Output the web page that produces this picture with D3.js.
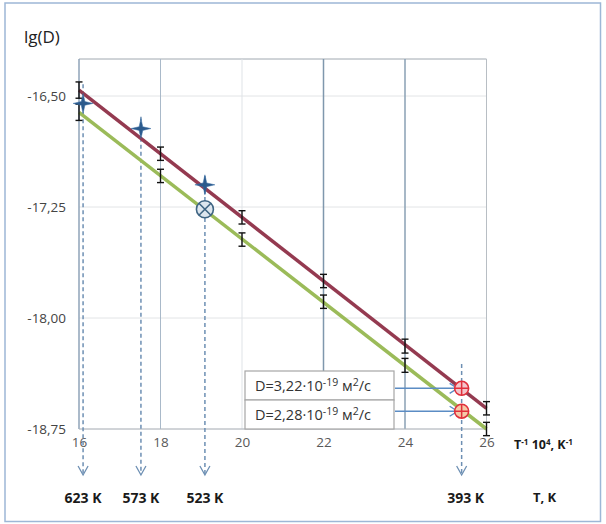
<!DOCTYPE html>
<html><head><meta charset="utf-8">
<script src="https://cdn.jsdelivr.net/npm/d3@7"></script>
<style>body{margin:0;background:#fff}svg{display:block}text{font-family:"Open Sans","Liberation Sans",Arial,sans-serif}</style>
</head><body><svg id="c" width="606" height="524"></svg>
<script>
// ---- data ----
const xTicks = [16,18,20,22,24,26];
const yTicks = [-16.50,-17.25,-18.00,-18.75];
const lineUpper = [[16,-16.46],[26,-18.61]];
const lineLower = [[16,-16.61],[26,-18.75]];
const errX = [16,18,20,22,24,26];
const errUpper = [-16.46,-16.89,-17.32,-17.75,-18.19,-18.61];
const errLower = [-16.61,-17.04,-17.47,-17.89,-18.32,-18.75];
const errSize = [0.055,0.045,0.045,0.045,0.047,0.045];
const stars = [[16.1,-16.55],[17.52,-16.72],[19.09,-17.10]];
const crossCircle = [19.09,-17.265];
const redPoints = [[25.39,-18.475],[25.39,-18.63]];
const dropX = [16.1,17.52,19.09,25.39];
const dropTop = [-16.42,-16.64,-17.04,-18.31];
const tempLabels = ["623 K","573 K","523 K","393 K"];
const legendTexts = [["D=3,22·10","-19"," м","2","/с"],["D=2,28·10","-19"," м","2","/с"]];

const svg = d3.select("#c");
const x = d3.scaleLinear().domain([16,26]).range([79,486.5]);
const y = d3.scaleLinear().domain([-18.75,-16.25]).range([429,59]);

// outer frame
svg.append("rect").attr("x",5).attr("y",3).attr("width",595.5).attr("height",518.5)
  .attr("fill","#fff").attr("stroke","#9db7d6").attr("stroke-width",1.5);

// horizontal gridlines
svg.append("g").selectAll("line").data(yTicks.concat([-16.25])).join("line")
  .attr("x1",x(16)).attr("x2",x(26)).attr("y1",d=>y(d)).attr("y2",d=>y(d))
  .attr("stroke",(d,i)=> d===-16.25? "#a0a8b0":"#e2e4e6").attr("stroke-width",1);
// vertical gridlines
const vCol = {18:"#a9b9c9",20:"#dfe3e7",22:"#7f97ad",24:"#8aa0b4",26:"#b8bec4"};
svg.append("g").selectAll("line").data([18,20,22,24,26]).join("line")
  .attr("x1",d=>x(d)).attr("x2",d=>x(d)).attr("y1",y(-16.25)).attr("y2",y(-18.75))
  .attr("stroke",d=>vCol[d]).attr("stroke-width",d=>(d==22||d==24)?1.5:1);
// left axis line
svg.append("line").attr("x1",x(16)).attr("x2",x(16)).attr("y1",y(-16.25)).attr("y2",y(-18.75))
  .attr("stroke","#8fa3b8").attr("stroke-width",1.5);
// bottom axis line
svg.append("line").attr("x1",x(16)).attr("x2",x(26)).attr("y1",y(-18.75)).attr("y2",y(-18.75))
  .attr("stroke","#b0b6bc").attr("stroke-width",1);

// axes labels via d3 axes
const xAxis = d3.axisBottom(x).tickValues(xTicks).tickSize(0).tickPadding(8).tickFormat(d3.format("d"));
const gx = svg.append("g").attr("transform",`translate(0,${y(-18.75)})`).call(xAxis);
gx.select(".domain").remove();
gx.selectAll("text").attr("font-size",13.5).attr("fill","#595959").attr("font-family","Open Sans, Liberation Sans, Arial");
const yAxis = d3.axisLeft(y).tickValues(yTicks).tickSize(0).tickPadding(13)
  .tickFormat(d=>d3.format(".2f")(d).replace(".",",").replace("−","-"));
const gy = svg.append("g").attr("transform",`translate(${x(16)},0)`).call(yAxis);
gy.select(".domain").remove();
gy.selectAll("text").attr("font-size",13.5).attr("fill","#444").attr("font-family","Open Sans, Liberation Sans, Arial");

// dashed drop lines
const dashCol = "#6d8fb3";
dropX.forEach((dx,i)=>{
  svg.append("line").attr("x1",x(dx)).attr("x2",x(dx)).attr("y1",y(dropTop[i])).attr("y2",474)
    .attr("stroke",dashCol).attr("stroke-width",1.5).attr("stroke-dasharray","4,3");
  svg.append("path").attr("d",`M${x(dx)-5},${466} L${x(dx)},${475} L${x(dx)+5},${466}`)
    .attr("fill","none").attr("stroke",dashCol).attr("stroke-width",1.3);
  svg.append("text").attr("x",x(dx)+ (i===3?4:0)).attr("y",503).attr("text-anchor","middle")
    .attr("font-size",14).attr("font-weight","bold").attr("fill","#1a1a1a").text(tempLabels[i]);
});

// lines
const lg = d3.line().x(d=>x(d[0])).y(d=>y(d[1]));
svg.append("path").attr("d",lg(lineLower)).attr("stroke","#9bbb59").attr("stroke-width",3.5).attr("fill","none");
svg.append("path").attr("d",lg(lineUpper)).attr("stroke","#943a50").attr("stroke-width",3.5).attr("fill","none");

// error bars
function errBars(vals){
  const g = svg.append("g").attr("stroke","#111").attr("stroke-width",1.4);
  errX.forEach((ex,i)=>{
    const cx=x(ex), t=y(vals[i]+errSize[i]), b=y(vals[i]-errSize[i]);
    g.append("line").attr("x1",cx).attr("x2",cx).attr("y1",t).attr("y2",b);
    g.append("line").attr("x1",cx-3.5).attr("x2",cx+3.5).attr("y1",t).attr("y2",t);
    g.append("line").attr("x1",cx-3.5).attr("x2",cx+3.5).attr("y1",b).attr("y2",b);
  });
}
errBars(errUpper); errBars(errLower);

// stars
function starPath(cx,cy,R,r){
  let p=[];
  for(let k=0;k<8;k++){const a=k*Math.PI/4 - Math.PI/2; const rr=k%2?r:R; p.push([cx+rr*Math.cos(a),cy+rr*Math.sin(a)]);}
  return "M"+p.map(q=>q.join(",")).join("L")+"Z";
}
stars.forEach(s=>{
  svg.append("path").attr("d",starPath(x(s[0]),y(s[1]),10,2.6)).attr("fill","#2c5a8c").attr("stroke","#3a6ea5").attr("stroke-width",0.5);
});

// crossed circle
{
  const cx=x(crossCircle[0]), cy=y(crossCircle[1]), r=8.5;
  svg.append("circle").attr("cx",cx).attr("cy",cy).attr("r",r).attr("fill","#dde6ee").attr("stroke","#3f6583").attr("stroke-width",1.6);
  const d=r*0.707;
  svg.append("path").attr("d",`M${cx-d},${cy-d}L${cx+d},${cy+d}M${cx-d},${cy+d}L${cx+d},${cy-d}`).attr("stroke","#3f6583").attr("stroke-width",1.6);
}

// legend boxes
const boxX=245, boxW=149, boxY=[371,400], boxH=29;
legendTexts.forEach((t,i)=>{
  svg.append("rect").attr("x",boxX).attr("y",boxY[i]).attr("width",boxW).attr("height",boxH)
    .attr("fill","#fff").attr("stroke","#a6a6a6").attr("stroke-width",1.2);
  const tx = svg.append("text").attr("x",boxX+10).attr("y",boxY[i]+20).attr("font-size",14.5).attr("fill","#333");
  tx.append("tspan").text(t[0]);
  tx.append("tspan").attr("dy",-5).attr("font-size",10.5).text(t[1]);
  tx.append("tspan").attr("dy",5).text(t[2]);
  tx.append("tspan").attr("dy",-5).attr("font-size",10.5).text(t[3]);
  tx.append("tspan").attr("dy",5).text(t[4]);
});

// arrows from boxes to red points
redPoints.forEach((p,i)=>{
  const yy=y(p[1]), ex=x(p[0])-4;
  svg.append("line").attr("x1",boxX+boxW+1).attr("x2",ex).attr("y1",yy).attr("y2",yy).attr("stroke","#5b8cc4").attr("stroke-width",1.6);
  svg.append("path").attr("d",`M${ex-8},${yy-5}L${ex},${yy}L${ex-8},${yy+5}`).attr("fill","none").attr("stroke","#5b8cc4").attr("stroke-width",1.4);
});

// red crossed circles
redPoints.forEach((p,i)=>{
  const cx=x(p[0]), cy=y(p[1]), r=7;
  svg.append("circle").attr("cx",cx).attr("cy",cy).attr("r",r).attr("fill",i?"#f6c9a8":"#f3c6cc").attr("stroke","#e0303c").attr("stroke-width",1.6);
  svg.append("path").attr("d",`M${cx-r},${cy}L${cx+r},${cy}M${cx},${cy-r}L${cx},${cy+r}`).attr("stroke","#e0303c").attr("stroke-width",1.5);
});

// titles
svg.append("text").attr("x",24).attr("y",43).attr("font-size",17).attr("fill","#222").text("lg(D)");
const xl = svg.append("text").attr("x",514).attr("y",449).attr("font-size",12.5).attr("font-weight","bold").attr("fill","#1a1a1a");
xl.append("tspan").text("T");
xl.append("tspan").attr("dy",-4).attr("font-size",8).text("-1");
xl.append("tspan").attr("dy",4).text(" 10");
xl.append("tspan").attr("dy",-4).attr("font-size",8).text("4");
xl.append("tspan").attr("dy",4).text(", K");
xl.append("tspan").attr("dy",-4).attr("font-size",8).text("-1");
svg.append("text").attr("x",533).attr("y",502).attr("font-size",13).attr("font-weight","bold").attr("fill","#1a1a1a").text("T, K");
</script></body></html>
